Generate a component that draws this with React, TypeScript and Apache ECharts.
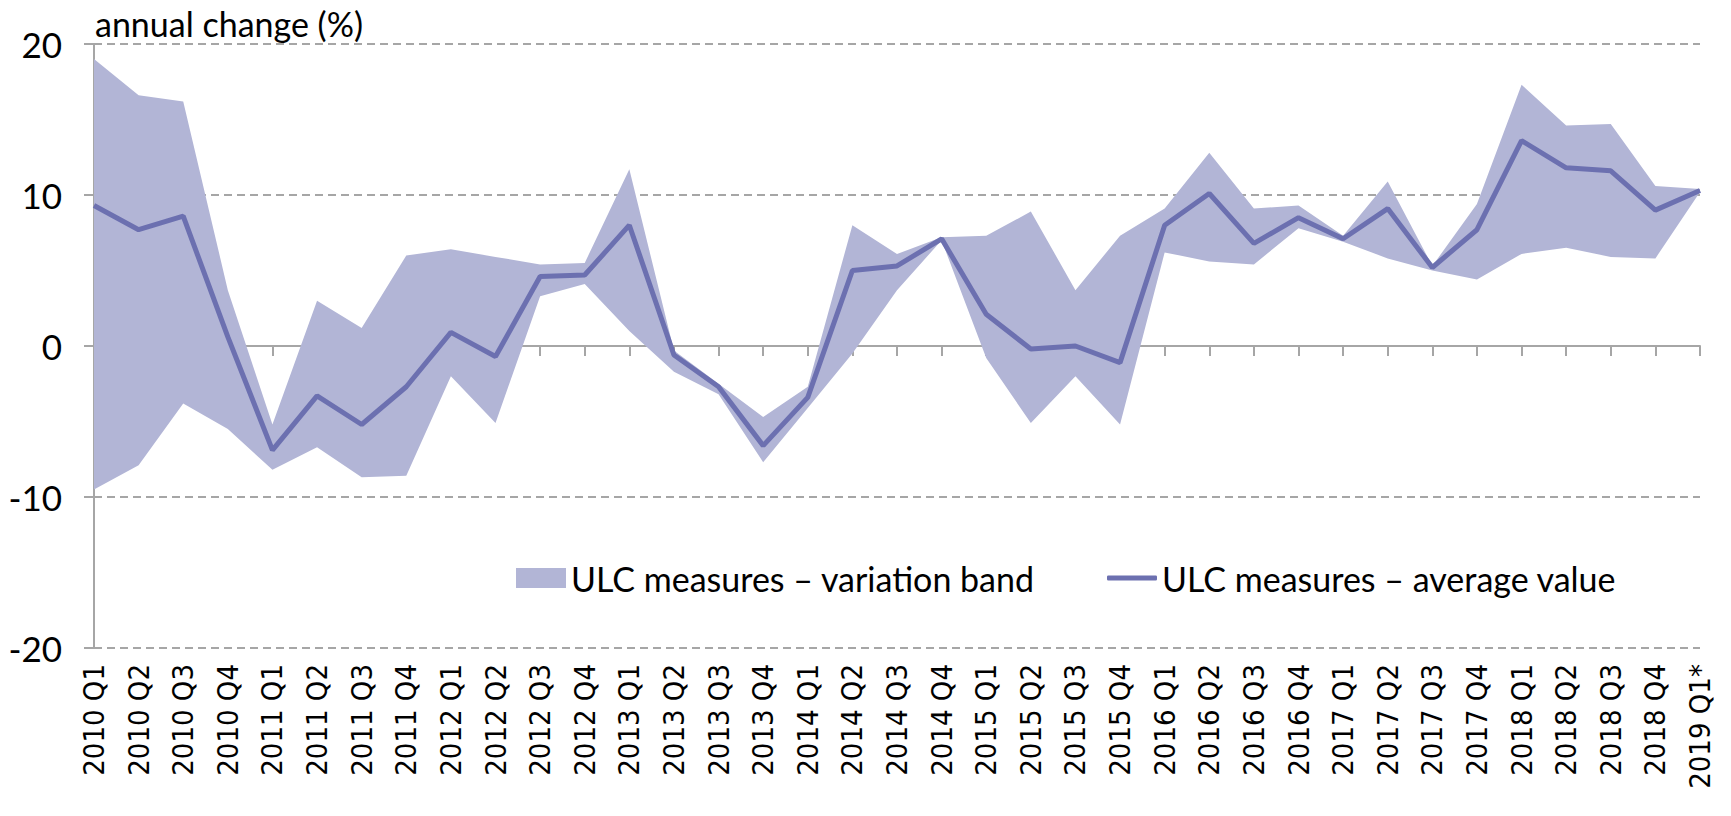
import React, { useEffect, useRef } from "react";
import * as echarts from "echarts";

const categories = [
  "2010 Q1", "2010 Q2", "2010 Q3", "2010 Q4",
  "2011 Q1", "2011 Q2", "2011 Q3", "2011 Q4",
  "2012 Q1", "2012 Q2", "2012 Q3", "2012 Q4",
  "2013 Q1", "2013 Q2", "2013 Q3", "2013 Q4",
  "2014 Q1", "2014 Q2", "2014 Q3", "2014 Q4",
  "2015 Q1", "2015 Q2", "2015 Q3", "2015 Q4",
  "2016 Q1", "2016 Q2", "2016 Q3", "2016 Q4",
  "2017 Q1", "2017 Q2", "2017 Q3", "2017 Q4",
  "2018 Q1", "2018 Q2", "2018 Q3", "2018 Q4",
  "2019 Q1*",
];

const bandUpper = [
  19.0, 16.6, 16.2, 3.7,
  -5.2, 3.0, 1.2, 6.0,
  6.4, 5.9, 5.4, 5.5,
  11.7, -0.3, -2.5, -4.7,
  -2.7, 8.0, 6.1, 7.2,
  7.3, 8.9, 3.7, 7.3,
  9.1, 12.8, 9.1, 9.3,
  7.3, 10.9, 5.3, 9.4,
  17.3, 14.6, 14.7, 10.6,
  10.4,
];

const averageValue = [
  9.3, 7.7, 8.6, 0.6,
  -6.9, -3.3, -5.2, -2.7,
  0.9, -0.7, 4.6, 4.7,
  8.0, -0.6, -2.7, -6.6,
  -3.4, 5.0, 5.3, 7.1,
  2.1, -0.2, 0.0, -1.1,
  8.0, 10.1, 6.8, 8.5,
  7.1, 9.1, 5.2, 7.7,
  13.6, 11.8, 11.6, 9.0,
  10.3,
];

const bandLower = [
  -9.5, -7.9, -3.8, -5.5,
  -8.2, -6.7, -8.7, -8.6,
  -2.0, -5.1, 3.3, 4.1,
  1.0, -1.7, -3.2, -7.7,
  -4.1, -0.5, 3.7, 7.0,
  -0.8, -5.1, -2.0, -5.2,
  6.2, 5.6, 5.4, 7.8,
  6.9, 5.8, 5.0, 4.4,
  6.1, 6.5, 5.9, 5.8,
  10.2,
];

const yTicks = { min: -20, max: 20, interval: 10 };

const BAND_NAME = "ULC measures \u2013 variation band";
const LINE_NAME = "ULC measures \u2013 average value";

const BAND_COLOR = "#b2b5d6";
const LINE_COLOR = "#6c70b0";
const AXIS_COLOR = "#a6a6a6";
const TEXT_FONT = "Lato, 'Open Sans', sans-serif";
const LABEL_FONT = "'DejaVu Sans Condensed', 'DejaVu Sans', sans-serif";

export default function App() {
  const ref = useRef<HTMLDivElement>(null);

  useEffect(() => {
    document.body.style.margin = "0";
    if (!ref.current) return;
    const chart = echarts.init(ref.current, null, { renderer: "svg" });
    const bandWidth = bandUpper.map((u, i) => +(u - bandLower[i]).toFixed(2));

    chart.setOption({
      animation: false,
      backgroundColor: "#ffffff",
      title: {
        text: "annual change (%)",
        left: 90,
        top: 1,
        textStyle: {
          fontFamily: TEXT_FONT,
          fontSize: 34,
          fontWeight: "normal",
          color: "#000",
        },
      },
      grid: { left: 94, right: 31, top: 44, bottom: 168, containLabel: false },
      legend: [
        {
          left: 511,
          top: 553,
          itemWidth: 50,
          itemHeight: 20,
          data: [{ name: BAND_NAME, icon: "rect", itemStyle: { color: BAND_COLOR } }],
          textStyle: { fontFamily: TEXT_FONT, fontSize: 34, color: "#000", lineHeight: 40 },
          selectedMode: false,
        },
        {
          left: 1102,
          top: 553,
          itemWidth: 50,
          itemHeight: 5,
          data: [{ name: LINE_NAME, icon: "roundRect", itemStyle: { color: LINE_COLOR } }],
          textStyle: { fontFamily: TEXT_FONT, fontSize: 34, color: "#000", lineHeight: 40 },
          selectedMode: false,
        },
      ],
      xAxis: [
        {
          type: "category",
          data: categories,
          boundaryGap: false,
          position: "bottom",
          axisLine: { show: false, onZero: false },
          axisTick: { show: false },
          splitLine: { show: false },
          axisLabel: {
            interval: 0,
            rotate: 90,
            margin: 16,
            fontFamily: LABEL_FONT,
            fontSize: 29,
            color: "#000",
          },
        },
        {
          type: "category",
          data: categories,
          boundaryGap: false,
          position: "bottom",
          axisLine: { show: true, onZero: true, lineStyle: { color: AXIS_COLOR, width: 2 } },
          axisTick: { show: true, interval: 0, length: 10, lineStyle: { color: AXIS_COLOR, width: 2 } },
          axisLabel: { show: false },
          splitLine: { show: false },
        },
      ],
      yAxis: {
        type: "value",
        min: yTicks.min,
        max: yTicks.max,
        interval: yTicks.interval,
        axisLine: { show: true, lineStyle: { color: AXIS_COLOR, width: 2 } },
        axisTick: { show: true, length: 10, lineStyle: { color: AXIS_COLOR, width: 2 } },
        axisLabel: {
          margin: 32,
          fontFamily: TEXT_FONT,
          fontSize: 35,
          color: "#000",
        },
        splitLine: {
          show: true,
          lineStyle: { color: AXIS_COLOR, width: 2, type: [8, 5] },
        },
      },
      series: [
        {
          name: "lower",
          type: "line",
          xAxisIndex: 0,
          data: bandLower,
          stack: "band",
          stackStrategy: "all",
          symbol: "none",
          lineStyle: { opacity: 0, width: 0 },
          silent: true,
          z: 1,
        },
        {
          name: BAND_NAME,
          type: "line",
          xAxisIndex: 0,
          data: bandWidth,
          stack: "band",
          stackStrategy: "all",
          symbol: "none",
          color: BAND_COLOR,
          itemStyle: { color: BAND_COLOR },
          lineStyle: { opacity: 0, width: 0 },
          areaStyle: { color: BAND_COLOR, opacity: 1 },
          silent: true,
          z: 1,
        },
        {
          name: LINE_NAME,
          type: "line",
          xAxisIndex: 0,
          data: averageValue,
          symbol: "none",
          color: LINE_COLOR,
          itemStyle: { color: LINE_COLOR },
          lineStyle: { color: LINE_COLOR, width: 5 },
          z: 3,
        },
      ],
    });

    return () => chart.dispose();
  }, []);

  return <div ref={ref} style={{ width: 1731, height: 816 }} />;
}
